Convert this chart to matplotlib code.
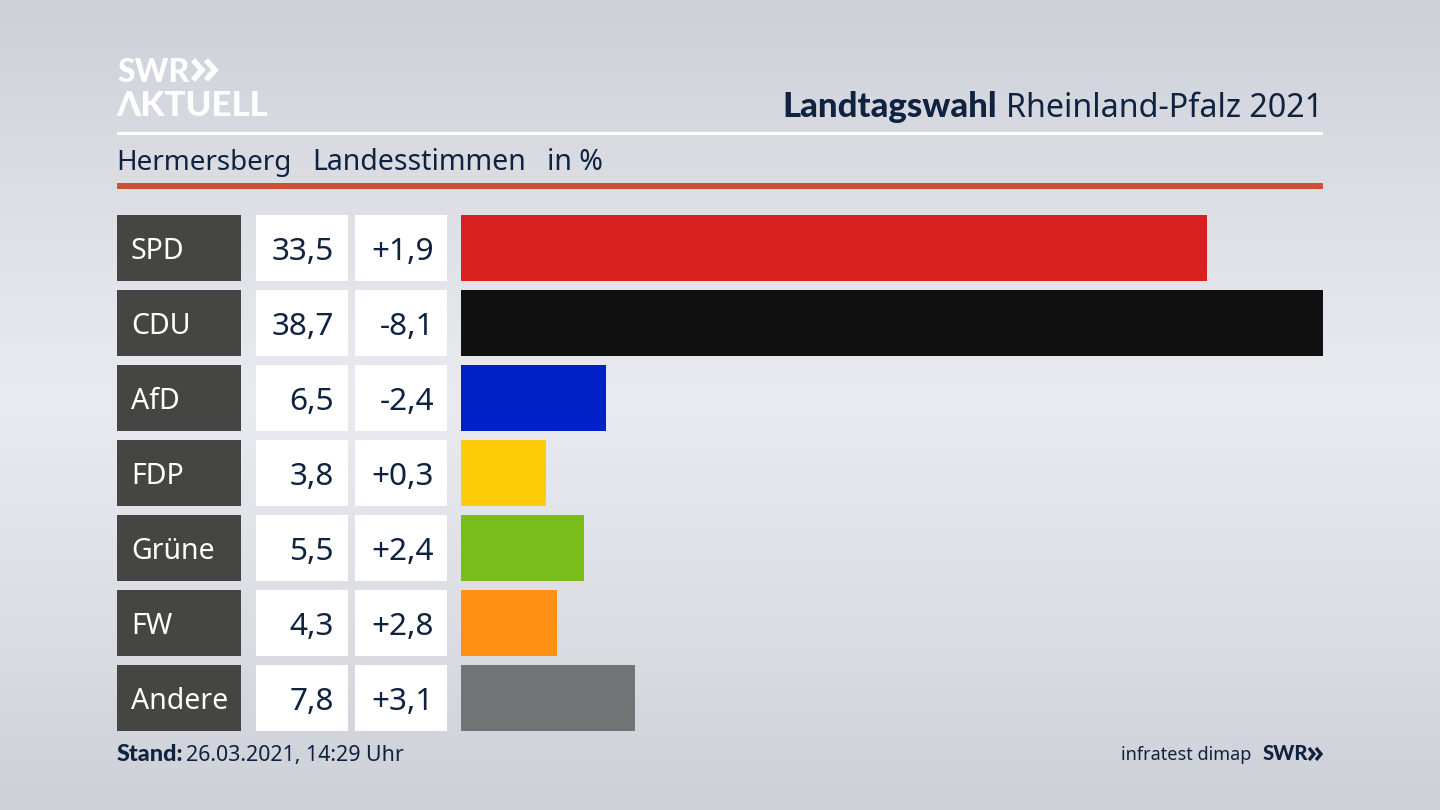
# Landtagswahl chart

import numpy as np
import matplotlib
matplotlib.use("Agg")
import matplotlib.pyplot as plt
from matplotlib.patches import Rectangle

parties = ['SPD', 'CDU', 'AfD', 'FDP', 'Grüne', 'FW', 'Andere']
shares = [33.5, 38.7, 6.5, 3.8, 5.5, 4.3, 7.8]
changes = ['+1,9', '-8,1', '-2,4', '+0,3', '+2,4', '+2,8', '+3,1']
bar_colors = ['#d8201f', '#111111', '#0021c8', '#ffcc0a', '#7abd1b', '#ff9015', '#727375']

navy = '#0f2240'
bold_font = ['Lato', 'DejaVu Sans']
plt.rcParams['font.family'] = ['Noto Sans', 'DejaVu Sans']

fig = plt.figure(figsize=(14.4, 8.1), dpi=100)

# page in pixel coords
page = fig.add_axes([0, 0, 1, 1])
page.set_xlim(0, 1440)
page.set_ylim(810, 0)
page.axis('off')

# background fades out from the middle
stops_y = [0, 200, 400, 600, 810]
stops_v = [0.0, 0.55, 1.0, 0.55, 0.0]
v = np.interp(np.arange(810), stops_y, stops_v)
top = np.array([205, 208, 215]) / 255
mid = np.array([234, 235, 240]) / 255
bg = top + (mid - top) * v[:, None]
page.imshow(bg[:, None, :], extent=[0, 1440, 810, 0], aspect='auto', zorder=0)

def chevrons(x, y, h, w, gap, lw, color):
    # the two arrows of the SWR logo
    for dx in (0, gap):
        page.plot([x + dx, x + dx + w, x + dx], [y - h / 2, y, y + h / 2], color=color, lw=lw,
                  solid_capstyle='butt', solid_joinstyle='miter')

# logo
page.text(117, 82, 'SWR', color='white', fontsize=23, family=bold_font, fontweight='black', va='baseline')
chevrons(193, 70, 20, 9, 13, 4, 'white')
page.text(116, 116, 'ΛKTUELL', color='white', fontsize=25, family=bold_font, fontweight='black', va='baseline')

# header
t = page.text(1323, 117, 'Rheinland-Pfalz 2021', color=navy, fontsize=23.2, ha='right', va='baseline')
fig.canvas.draw()
box = t.get_window_extent()
page.text(box.x0 - 9, 117, 'Landtagswahl', color=navy, fontsize=25, family=bold_font, fontweight='black', ha='right', va='baseline')
page.add_patch(Rectangle((117, 132), 1206, 3, color='white', lw=0))
page.text(116, 170, 'Hermersberg', color=navy, fontsize=20, va='baseline')
page.text(312, 170, 'Landesstimmen', color=navy, fontsize=20.5, va='baseline')
page.text(547, 170, 'in %', color=navy, fontsize=20.5, va='baseline')
page.add_patch(Rectangle((117, 183), 1206, 6, color='#cf5038', lw=0))

# table cells left of the bars
row_h = 66.4
for i, party in enumerate(parties):
    y0 = 215 + i * 75
    yc = y0 + row_h / 2
    page.add_patch(Rectangle((117, y0), 124, row_h, color='#454543', lw=0))
    page.add_patch(Rectangle((256, y0), 92, row_h, color='white', lw=0))
    page.add_patch(Rectangle((355, y0), 92, row_h, color='white', lw=0))
    page.text(131, yc + 11, party, color='white', fontsize=20.5, va='baseline')
    page.text(334, yc + 12, ('%.1f' % shares[i]).replace('.', ','), color=navy, fontsize=22.7, ha='right', va='baseline')
    page.text(434, yc + 12, changes[i], color=navy, fontsize=22.7, ha='right', va='baseline')

# bars, scaled so the largest reaches the right edge
ax = fig.add_axes([461 / 1440, 1 - 731.4 / 810, 862 / 1440, 516.4 / 810])
ax.patch.set_alpha(0)
ax.barh(range(len(parties)), shares, height=row_h / 75, color=bar_colors)
ax.set_xlim(0, max(shares))
ax.set_ylim(6 + row_h / 150, -row_h / 150)
ax.axis('off')

# footer
page.text(117, 761, 'Stand:', color=navy, fontsize=16.8, family=bold_font, fontweight='black', va='baseline')
page.text(186, 761, '26.03.2021, 14:29 Uhr', color=navy, fontsize=15.4, va='baseline')
page.text(1251, 760, 'infratest dimap', color=navy, fontsize=13, ha='right', va='baseline')
page.text(1263, 760, 'SWR', color=navy, fontsize=14.5, family=bold_font, fontweight='black', va='baseline')
chevrons(1309, 754, 12, 5, 7, 2.4, navy)

fig.savefig('out.png', dpi=100)
